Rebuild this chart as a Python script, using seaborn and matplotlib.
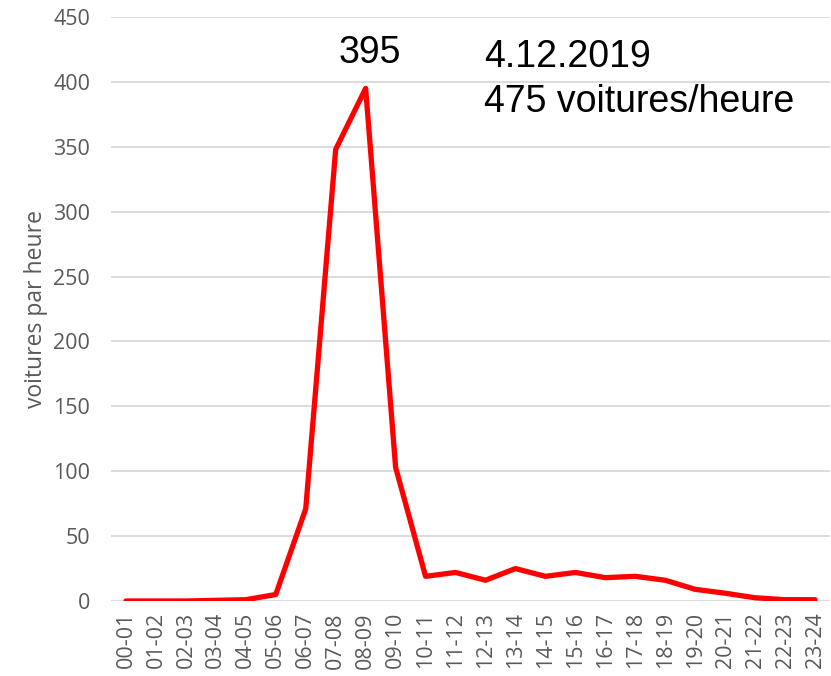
import matplotlib
matplotlib.use("Agg")
import matplotlib.pyplot as plt
import seaborn as sns
import pandas as pd

sns.set_style("white")

# hourly slots and counted cars
hours = ["00-01", "01-02", "02-03", "03-04", "04-05", "05-06", "06-07", "07-08",
         "08-09", "09-10", "10-11", "11-12", "12-13", "13-14", "14-15", "15-16",
         "16-17", "17-18", "18-19", "19-20", "20-21", "21-22", "22-23", "23-24"]
cars = [0, 0, 0, 0.5, 1, 5, 71, 348, 395, 103, 19, 22, 16, 25, 19, 22,
        18, 19, 16, 9, 6, 2.5, 1, 1]
peak_label = "395"
date_label = "4.12.2019"
total_label = "475 voitures/heure"
y_ticks = [0, 50, 100, 150, 200, 250, 300, 350, 400, 450]

df = pd.DataFrame({"hour": hours, "cars": cars})

fig = plt.figure(figsize=(8.31, 6.76), dpi=100)
ax = fig.add_axes([111 / 831, 1 - 601 / 676, 719 / 831, 584 / 676])

sns.lineplot(data=df, x="hour", y="cars", color="#ff0000", linewidth=3.8,
             sort=False, ax=ax)

ax.set_ylim(0, 450)
ax.set_xlim(-0.5, len(hours) - 0.5)
ax.set_yticks(y_ticks)
ax.yaxis.grid(True, color="#d9d9d9", linewidth=1.3)
ax.set_axisbelow(True)
for s in ax.spines.values():
    s.set_visible(False)

ax.tick_params(axis="both", length=0, colors="#595959", labelsize=15.5)
ax.tick_params(axis="x", pad=8)
ax.tick_params(axis="y", pad=15)
for lab in ax.get_xticklabels():
    lab.set_rotation(90)
    lab.set_family("Open Sans")
for lab in ax.get_yticklabels():
    lab.set_family("Open Sans")

ax.set_xlabel("")
ax.set_ylabel("voitures par heure", fontsize=16.5, color="#595959",
              family="Open Sans", labelpad=4)

# annotations
ax.text(8 + 0.13, 422, peak_label, ha="center", va="center",
        fontsize=27, family="Liberation Sans", color="black")
fig.text(484 / 831, 1 - 57 / 676, date_label, ha="left", va="center",
         fontsize=27, family="Liberation Sans", color="black")
fig.text(484 / 831, 1 - 102 / 676, total_label, ha="left", va="center",
         fontsize=27, family="Liberation Sans", color="black")

fig.savefig("out.png", dpi=100)
